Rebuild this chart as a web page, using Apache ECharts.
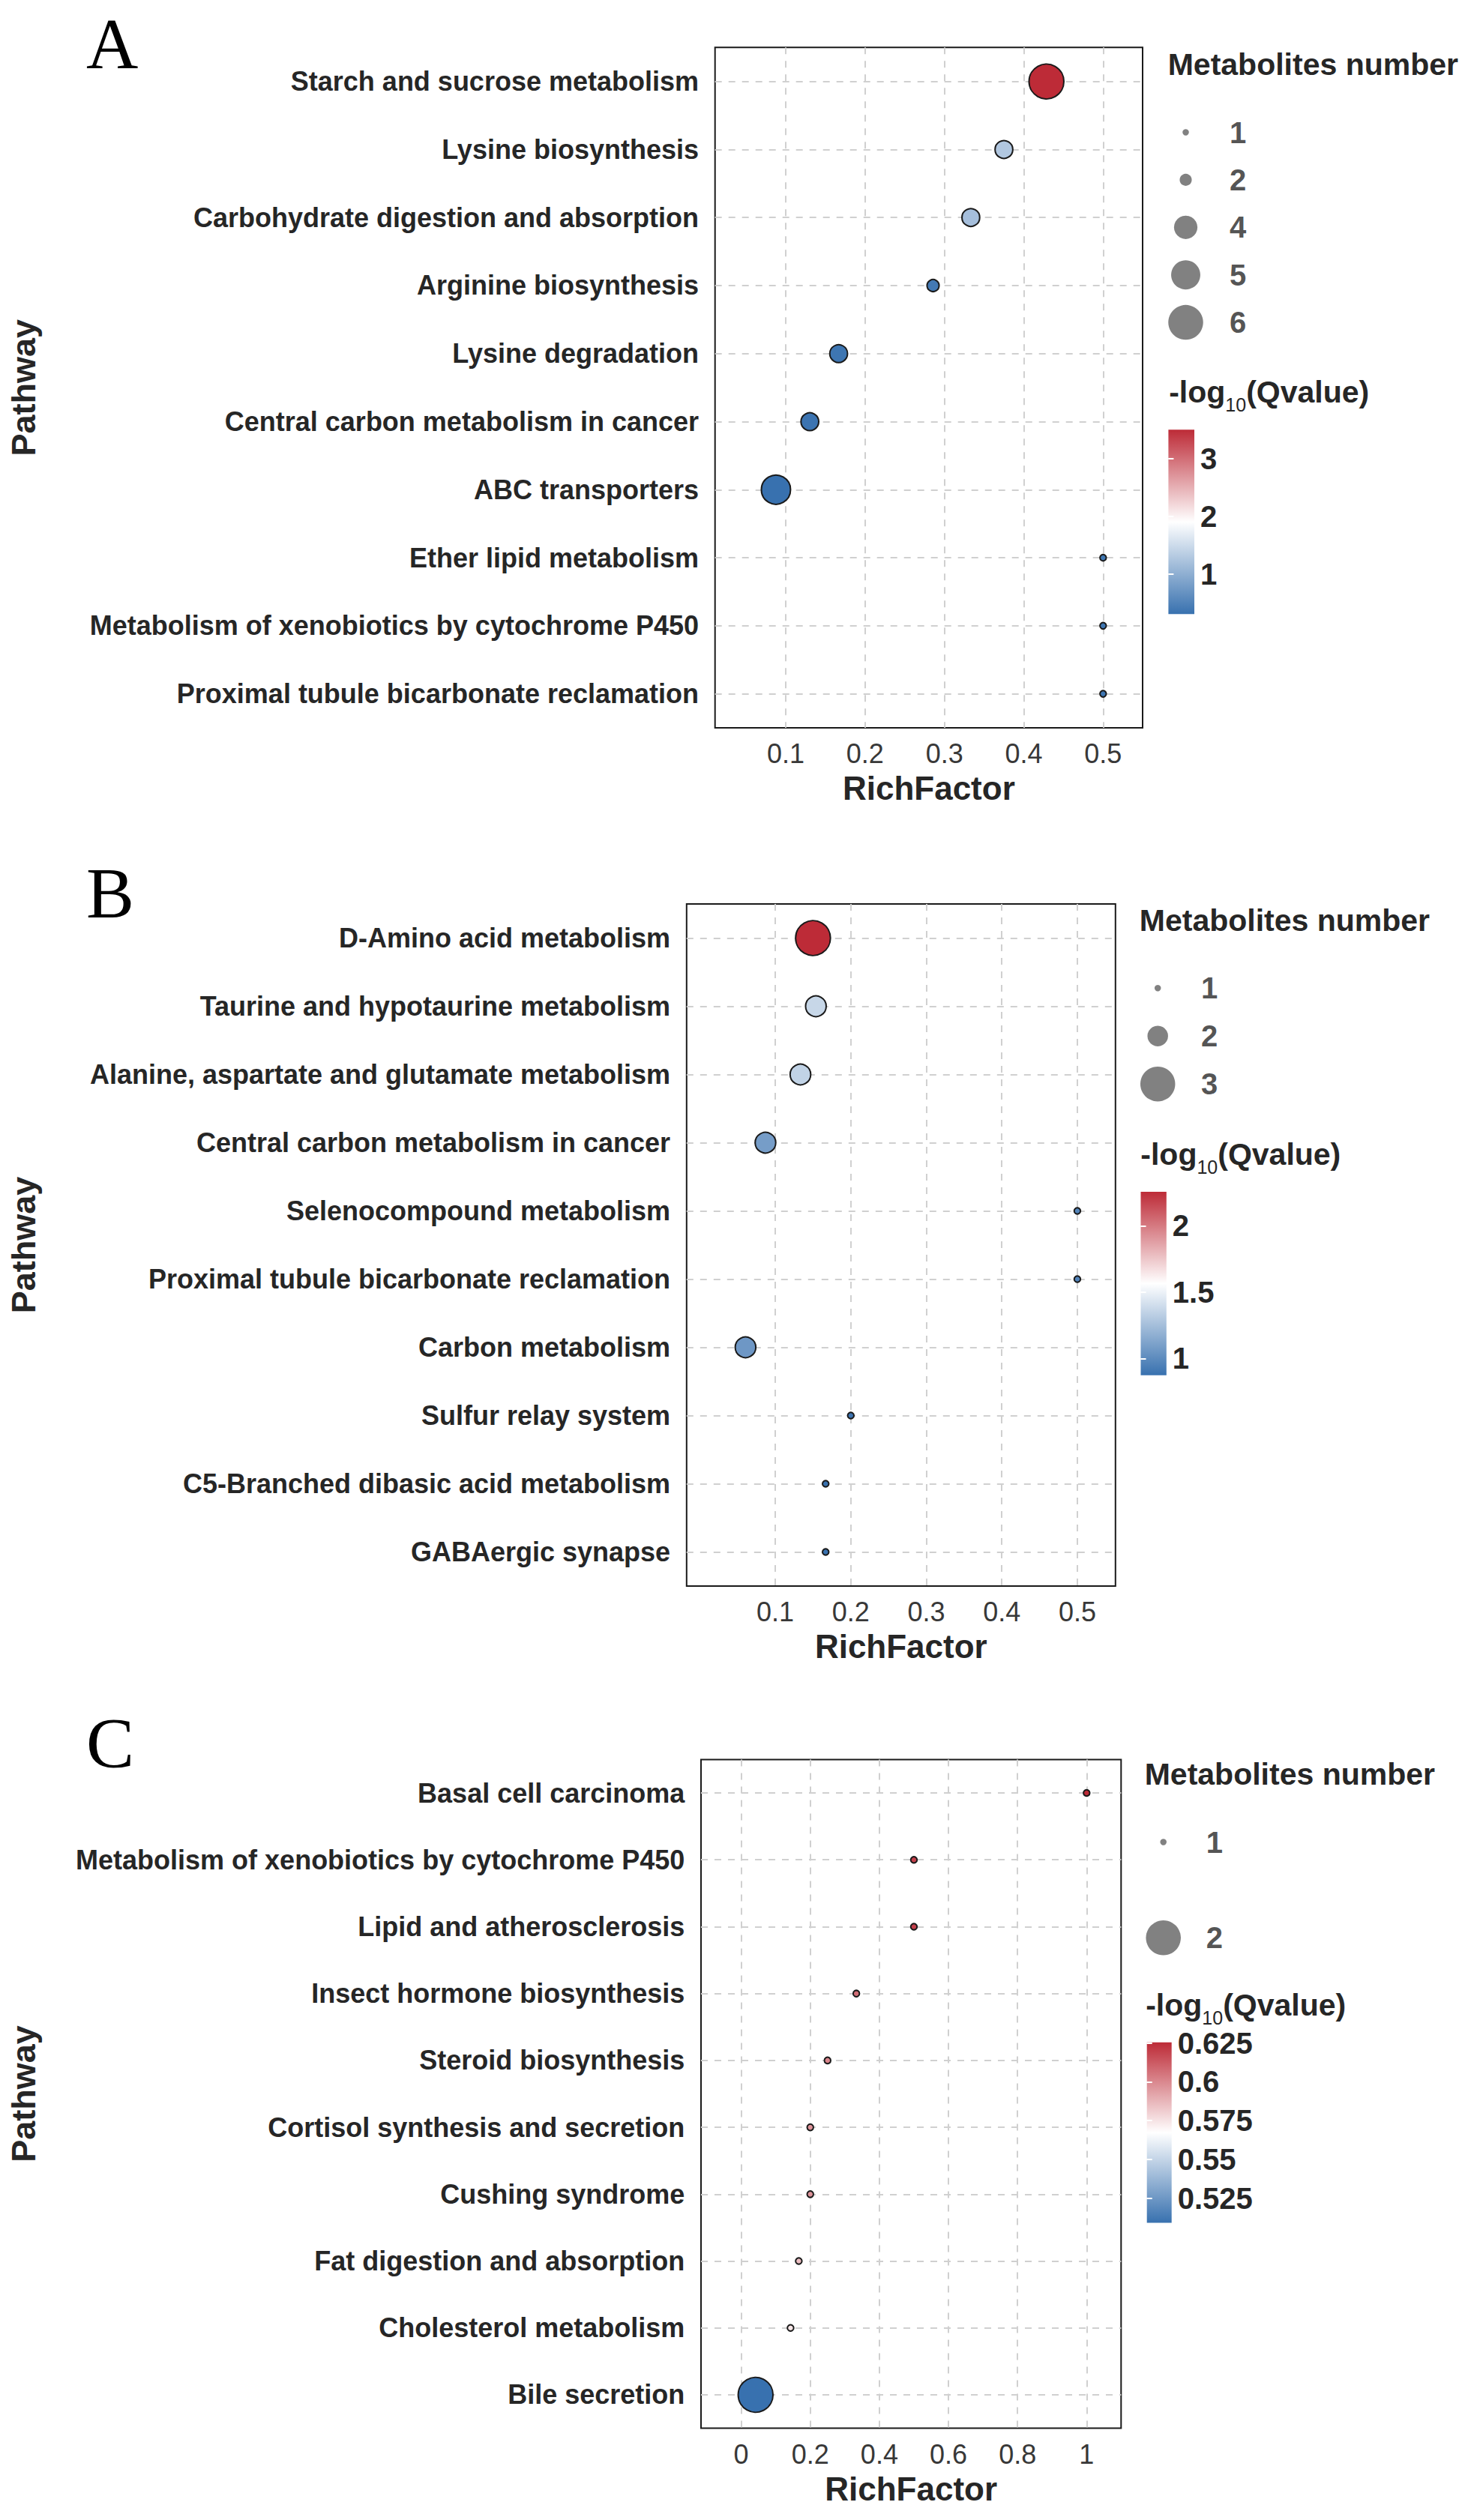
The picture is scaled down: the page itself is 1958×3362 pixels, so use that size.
<!DOCTYPE html>
<html>
<head>
<meta charset="utf-8">
<script src="https://cdn.jsdelivr.net/npm/echarts@6/dist/echarts.min.js"></script>
<style>
html,body{margin:0;padding:0;background:#fff;}
#chart{width:1958px;height:3362px;}
</style>
</head>
<body>
<div id="chart"></div>
<script>
// ---------------- DATA ----------------
const pathwaysA = ['Starch and sucrose metabolism','Lysine biosynthesis','Carbohydrate digestion and absorption','Arginine biosynthesis','Lysine degradation','Central carbon metabolism in cancer','ABC transporters','Ether lipid metabolism','Metabolism of xenobiotics by cytochrome P450','Proximal tubule bicarbonate reclamation'];
const richFactorA = [0.4286, 0.375, 0.3333, 0.2857, 0.1667, 0.1304, 0.0877, 0.5, 0.5, 0.5];
const countA = [6, 3, 3, 2, 3, 3, 5, 1, 1, 1];
const qvalueA = [3.506, 1.28, 1.18, 0.40, 0.36, 0.34, 0.308, 0.36, 0.36, 0.36];
const sizeBreaksA = [1, 2, 4, 5, 6];
const qTicksA = [1, 2, 3];
const xTicksA = [0.1, 0.2, 0.3, 0.4, 0.5];
const xLimA = [0.0109, 0.5498];

const pathwaysB = ['D-Amino acid metabolism','Taurine and hypotaurine metabolism','Alanine, aspartate and glutamate metabolism','Central carbon metabolism in cancer','Selenocompound metabolism','Proximal tubule bicarbonate reclamation','Carbon metabolism','Sulfur relay system','C5-Branched dibasic acid metabolism','GABAergic synapse'];
const richFactorB = [0.15, 0.1538, 0.1333, 0.087, 0.5, 0.5, 0.0606, 0.2, 0.1667, 0.1667];
const countB = [3, 2, 2, 2, 1, 1, 2, 1, 1, 1];
const qvalueB = [2.256, 1.37, 1.35, 1.09, 0.97, 0.96, 1.06, 0.89, 0.874, 0.874];
const sizeBreaksB = [1, 2, 3];
const qTicksB = [1, 1.5, 2];
const xTicksB = [0.1, 0.2, 0.3, 0.4, 0.5];
const xLimB = [-0.0174, 0.5505];

const pathwaysC = ['Basal cell carcinoma','Metabolism of xenobiotics by cytochrome P450','Lipid and atherosclerosis','Insect hormone biosynthesis','Steroid biosynthesis','Cortisol synthesis and secretion','Cushing syndrome','Fat digestion and absorption','Cholesterol metabolism','Bile secretion'];
const richFactorC = [1, 0.5, 0.5, 0.3333, 0.25, 0.2, 0.2, 0.1667, 0.1429, 0.0417];
const countC = [1, 1, 1, 1, 1, 1, 1, 1, 1, 2];
const qvalueC = [0.6254, 0.620, 0.620, 0.607, 0.601, 0.597, 0.597, 0.585, 0.574, 0.5092];
const sizeBreaksC = [1, 2];
const qTicksC = [0.525, 0.55, 0.575, 0.6, 0.625];
const xTicksC = [0, 0.2, 0.4, 0.6, 0.8, 1];
const xLimC = [-0.1163, 1.0998];

// ---------------- STYLE / LAYOUT ----------------
const SANS = '"Liberation Sans", Arial, Helvetica, sans-serif';
const SERIF = '"Liberation Serif", "Times New Roman", serif';
const RED = '#BD2B37', BLUE = '#3871AF', TXT = '#262626';

const panels = [
  {letter:'A', pathways:pathwaysA, rf:richFactorA, count:countA, q:qvalueA, sizeBreaks:sizeBreaksA, qTicks:qTicksA, xTicks:xTicksA, xLim:xLimA,
   plot:{left:953.7, top:63.3, width:570.3, height:907.7}, letterBase:91,
   legX:1560.7, sizeTitleY:85, dotX:1581.5, rowY0:176.5, rowGap:63.4, labelDX:58.5,
   cbTitleBase:537.6, cb:{left:1558.4, top:573.3, width:34.6, height:246}},
  {letter:'B', pathways:pathwaysB, rf:richFactorB, count:countB, q:qvalueB, sizeBreaks:sizeBreaksB, qTicks:qTicksB, xTicks:xTicksB, xLim:xLimB,
   plot:{left:915.8, top:1206, width:572, height:910}, letterBase:1224.3,
   legX:1522.8, sizeTitleY:1227.6, dotX:1544.2, rowY0:1318.2, rowGap:64, labelDX:57.8,
   cbTitleBase:1554.3, cb:{left:1521.5, top:1590, width:34.3, height:244.8}},
  {letter:'C', pathways:pathwaysC, rf:richFactorC, count:countC, q:qvalueC, sizeBreaks:sizeBreaksC, qTicks:qTicksC, xTicks:xTicksC, xLim:xLimC,
   plot:{left:935, top:2347.4, width:560.3, height:892.2}, letterBase:2358,
   legX:1529.7, sizeTitleY:2366.6, dotX:1551.7, rowY0:2457.5, rowGap:127.8, labelDX:57.1,
   cbTitleBase:2689, cb:{left:1529.7, top:2724.8, width:33, height:240.7}}
];

const chart = echarts.init(document.getElementById('chart'), null, {renderer:'svg', width:1958, height:3362});

const option = {animation:false, backgroundColor:'#ffffff', grid:[], xAxis:[], yAxis:[], series:[], visualMap:[], graphic:[]};
const gridLine = {show:true, lineStyle:{color:'#d0d0d0', width:2, type:[9, 9]}};

panels.forEach(p => {
  const n = p.pathways.length;
  const idx = p.pathways.map((_, i) => i);
  const cMin = Math.min(...p.count), cMax = Math.max(...p.count);
  const sizeOf = c => 8.5 + 38 * (c - cMin) / (cMax - cMin);
  const qMin = Math.min(...p.q), qMax = Math.max(...p.q);

  // ---- main plot ----
  const g = option.grid.length;
  option.grid.push({left:p.plot.left, top:p.plot.top, width:p.plot.width, height:p.plot.height,
    show:true, backgroundColor:'#ffffff', borderColor:'#1a1a1a', borderWidth:2, containLabel:false, outerBoundsMode:'none'});
  const xi = option.xAxis.length;
  option.xAxis.push({gridIndex:g, type:'value', min:p.xLim[0], max:p.xLim[1],
    axisLine:{show:false}, axisTick:{show:false, customValues:p.xTicks},
    axisLabel:{customValues:p.xTicks, formatter:v => String(v), margin:16.5, fontSize:36, fontFamily:SANS, color:'#383838'},
    splitLine:gridLine,
    name:'RichFactor', nameLocation:'middle', nameGap:58.5,
    nameTextStyle:{fontSize:44, fontWeight:'bold', fontFamily:SANS, color:TXT, lineHeight:44}});
  const yi = option.yAxis.length;
  option.yAxis.push({gridIndex:g, type:'value', min:-0.5, max:n - 0.5, inverse:true,
    axisLine:{show:false}, axisTick:{show:false, customValues:idx},
    axisLabel:{customValues:idx, formatter:v => p.pathways[Math.round(v)], margin:21.7, fontSize:36, fontWeight:'bold', fontFamily:SANS, color:TXT},
    splitLine:gridLine});
  const si = option.series.length;
  option.series.push({type:'scatter', xAxisIndex:xi, yAxisIndex:yi, clip:false, silent:true, z:3,
    data:p.rf.map((x, i) => [x, i, p.count[i], p.q[i]]),
    symbolSize:d => sizeOf(d[2]),
    itemStyle:{borderColor:'#1a1a1a', borderWidth:2, opacity:1}});
  option.visualMap.push({type:'continuous', show:false, seriesIndex:si, dimension:3, min:qMin, max:qMax,
    inRange:{color:[BLUE, '#ffffff', RED]}});

  // ---- size legend ----
  const gs = option.grid.length;
  const nb = p.sizeBreaks.length;
  option.grid.push({left:p.dotX, width:p.labelDX, top:p.rowY0 - p.rowGap / 2, height:p.rowGap * nb, show:false, outerBoundsMode:'none'});
  const xs = option.xAxis.length;
  option.xAxis.push({gridIndex:gs, type:'value', min:0, max:1, show:false});
  const ys = option.yAxis.length;
  option.yAxis.push({gridIndex:gs, type:'value', min:-0.5, max:nb - 0.5, inverse:true, show:false});
  option.series.push({type:'scatter', xAxisIndex:xs, yAxisIndex:ys, clip:false, silent:true,
    data:p.sizeBreaks.map((b, i) => [0, i, b]), symbolSize:d => sizeOf(d[2]),
    itemStyle:{color:'#626262'}});
  option.series.push({type:'scatter', xAxisIndex:xs, yAxisIndex:ys, clip:false, silent:true,
    data:p.sizeBreaks.map((b, i) => [1, i, b]), symbolSize:0.01,
    itemStyle:{color:'rgba(0,0,0,0)'},
    label:{show:true, position:'right', distance:0, formatter:prm => String(prm.value[2]),
      fontSize:40, fontWeight:'bold', fontFamily:SANS, color:TXT}});

  // ---- colour bar ----
  const gc = option.grid.length;
  option.grid.push({left:p.cb.left, top:p.cb.top, width:p.cb.width, height:p.cb.height, show:true, borderWidth:0, outerBoundsMode:'none',
    backgroundColor:new echarts.graphic.LinearGradient(0, 0, 0, 1, [
      {offset:0, color:RED}, {offset:0.5, color:'#ffffff'}, {offset:1, color:BLUE}])});
  option.xAxis.push({gridIndex:gc, type:'value', min:0, max:1, show:false});
  const cbTick = {show:true, inside:true, length:7, customValues:p.qTicks, lineStyle:{color:'#ffffff', width:2}};
  option.yAxis.push({gridIndex:gc, type:'value', position:'right', min:qMin, max:qMax,
    axisLine:{show:false}, splitLine:{show:false}, axisTick:cbTick,
    axisLabel:{customValues:p.qTicks, formatter:v => String(v), margin:8, fontSize:40, fontWeight:'bold', fontFamily:SANS, color:TXT}});
  option.yAxis.push({gridIndex:gc, type:'value', position:'left', min:qMin, max:qMax,
    axisLine:{show:false}, splitLine:{show:false}, axisTick:cbTick, axisLabel:{show:false}});

  // ---- texts ----
  option.graphic.push({type:'text', x:115, y:p.letterBase - 32.4, silent:true,
    style:{text:p.letter, font:'96px ' + SERIF, fill:'#000', align:'left', verticalAlign:'middle'}});
  option.graphic.push({type:'text', x:31.4, y:p.plot.top + p.plot.height / 2, rotation:Math.PI / 2, silent:true,
    style:{text:'Pathway', font:'bold 45px ' + SANS, fill:TXT, align:'center', verticalAlign:'middle'}});
  option.graphic.push({type:'text', x:p.legX - 3, y:p.sizeTitleY + 0.5, silent:true,
    style:{text:'Metabolites number', font:'bold 41px ' + SANS, fill:TXT, align:'left', verticalAlign:'middle'}});
  option.graphic.push({type:'text', x:p.legX - 1.5, y:p.cbTitleBase - 34.7, silent:true,
    style:{text:'{a|-log}{b|10}{a|(Qvalue)}', align:'left', verticalAlign:'top',
      rich:{a:{fontSize:41, fontWeight:'bold', fontFamily:SANS, fill:TXT, color:TXT, lineHeight:41, verticalAlign:'top'},
            b:{fontSize:25, fontWeight:'normal', fontFamily:SANS, fill:TXT, color:TXT, lineHeight:25, padding:[25, 0, 0, 0], verticalAlign:'top'}}}});
});

chart.setOption(option);
</script>
</body>
</html>
